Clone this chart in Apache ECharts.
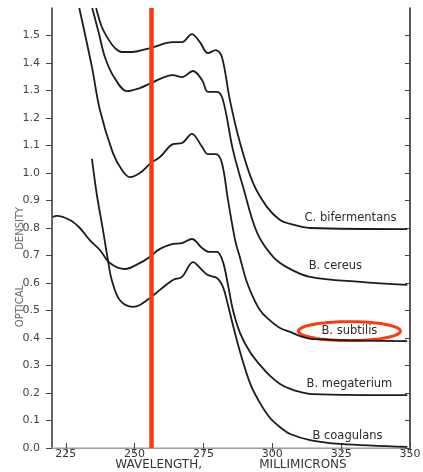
<!DOCTYPE html>
<html>
<head>
<meta charset="utf-8">
<script src="https://cdn.jsdelivr.net/npm/echarts@6/dist/echarts.min.js"></script>
<style>
  html, body { margin: 0; padding: 0; background: #fff; }
  #chart { width: 423px; height: 472px; }
</style>
</head>
<body>
<div id="chart"></div>
<script>
// wavelength (millimicrons) / optical density
const bifX = [236.0, 238.1, 240.6, 242.8, 245.4, 249.0, 255.9, 263.9, 267.2, 270.8, 273.7, 276.6, 279.5, 281.7, 284.6, 288.3, 293.0, 298.1, 302.8, 306.5, 313.7, 349.0];
const bifY = [1.60, 1.531, 1.484, 1.455, 1.44, 1.44, 1.455, 1.476, 1.476, 1.505, 1.476, 1.436, 1.447, 1.422, 1.265, 1.109, 0.964, 0.876, 0.829, 0.815, 0.80, 0.796];

const cerX = [234.6, 237.0, 239.2, 242.5, 247.2, 251.9, 255.9, 263.9, 267.2, 271.2, 274.5, 276.6, 279.9, 282.1, 285.7, 289.4, 294.5, 300.3, 305.7, 313.7, 331.9, 349.0];
const cerY = [1.60, 1.509, 1.422, 1.349, 1.298, 1.309, 1.327, 1.356, 1.349, 1.371, 1.338, 1.295, 1.295, 1.265, 1.084, 0.949, 0.782, 0.695, 0.655, 0.622, 0.604, 0.593];

const subX = [229.9, 234.5, 237.4, 242.1, 245.4, 248.3, 251.9, 255.9, 259.2, 263.9, 267.2, 270.8, 274.5, 276.6, 279.5, 281.7, 283.9, 286.5, 288.3, 290.5, 293.0, 295.5, 298.1, 302.8, 306.5, 310.1, 314.8, 349.0];
const subY = [1.60, 1.385, 1.229, 1.073, 1.011, 0.985, 1.0, 1.036, 1.058, 1.105, 1.109, 1.142, 1.095, 1.069, 1.069, 1.036, 0.902, 0.756, 0.691, 0.611, 0.549, 0.502, 0.473, 0.436, 0.422, 0.407, 0.396, 0.389];

const megX = [220.3, 221.7, 226.5, 230.1, 233.7, 237.4, 241.0, 246.5, 252.0, 255.5, 259.2, 263.9, 267.2, 270.8, 274.5, 277.0, 279.9, 282.1, 283.9, 285.7, 288.3, 291.9, 295.5, 299.2, 302.8, 306.5, 310.1, 314.8, 349.0];
const megY = [0.84, 0.844, 0.829, 0.80, 0.756, 0.72, 0.673, 0.651, 0.673, 0.695, 0.724, 0.742, 0.745, 0.76, 0.727, 0.713, 0.713, 0.676, 0.593, 0.502, 0.418, 0.349, 0.302, 0.262, 0.233, 0.215, 0.204, 0.196, 0.192];

const coaX = [234.5, 236.3, 238.5, 240.3, 241.7, 244.6, 249.4, 251.9, 255.5, 259.2, 263.9, 267.2, 271.2, 274.5, 276.6, 279.9, 282.1, 283.9, 285.7, 288.3, 291.9, 295.5, 299.2, 302.8, 306.5, 313.7, 324.6, 349.0];
const coaY = [1.051, 0.92, 0.793, 0.684, 0.611, 0.538, 0.513, 0.52, 0.545, 0.575, 0.611, 0.622, 0.676, 0.647, 0.629, 0.618, 0.585, 0.52, 0.447, 0.349, 0.236, 0.164, 0.109, 0.076, 0.051, 0.029, 0.015, 0.004];

const xTicks = [225, 250, 275, 300, 325, 350];
const yTicks = [0, 0.1, 0.2, 0.3, 0.4, 0.5, 0.6, 0.7, 0.8, 0.9, 1.0, 1.1, 1.2, 1.3, 1.4, 1.5];

const names = ["C. bifermentans", "B. cereus", "B. subtilis", "B. megaterium", "B coagulans"];
// where each name sits, in data units
const labelAt = [[328.4, 0.836], [322.9, 0.662], [328.0, 0.425], [328.0, 0.233], [327.3, 0.044]];

const marker = 256; // red vertical line
const red = "#fb3a12";

const zip = (xs, ys) => xs.map((x, i) => [x, ys[i]]);
const curves = [zip(bifX, bifY), zip(cerX, cerY), zip(subX, subY), zip(megX, megY), zip(coaX, coaY)];

const chart = echarts.init(document.getElementById("chart"));

const series = curves.map((d, i) => ({
  name: names[i],
  type: "line",
  data: d,
  smooth: 0.35,
  showSymbol: false,
  xAxisIndex: 0,
  yAxisIndex: 0,
  lineStyle: { color: "#1c1c1c", width: 1.8 },
  markPoint: {
    symbol: "circle",
    symbolSize: 1,
    itemStyle: { color: "transparent" },
    label: {
      show: true,
      position: "inside",
      formatter: names[i],
      color: "#2a2a2a",
      fontSize: 11.5,
      fontFamily: "DejaVu Sans"
    },
    data: [{ coord: labelAt[i] }]
  }
}));

series[0].markLine = {
  symbol: "none",
  silent: true,
  label: { show: false },
  lineStyle: { color: red, width: 4.5, type: "solid" },
  data: [{ xAxis: marker }]
};

const option = {
  animation: false,
  backgroundColor: "#fff",
  textStyle: { fontFamily: "DejaVu Sans" },
  grid: { left: 52, right: 13, top: 8, bottom: 24, outerBoundsMode: "none" },
  xAxis: [
    {
      type: "value",
      min: 220,
      max: 350,
      position: "bottom",
      name: "WAVELENGTH,               MILLIMICRONS",
      nameLocation: "middle",
      nameGap: 11,
      nameMoveOverlap: false,
      nameTextStyle: { color: "#333", fontSize: 12 },
      axisLine: { lineStyle: { color: "#444", width: 1.2 } },
      axisTick: { inside: true, length: 5, customValues: xTicks, lineStyle: { color: "#444" } },
      axisLabel: { customValues: xTicks, margin: 1, fontSize: 11, color: "#333" },
      splitLine: { show: false }
    },
    {
      type: "value",
      min: 220,
      max: 350,
      position: "top",
      axisLine: { lineStyle: { color: "#bbb", width: 1.5 } },
      axisTick: { inside: true, length: 4, customValues: xTicks, lineStyle: { color: "#777" } },
      axisLabel: { show: false },
      splitLine: { show: false }
    }
  ],
  yAxis: [
    {
      type: "value",
      min: 0,
      max: 1.6,
      axisLine: { show: true, lineStyle: { color: "#333", width: 1.5 } },
      axisTick: { show: true, length: 6, customValues: yTicks, lineStyle: { color: "#444" } },
      axisLabel: {
        customValues: yTicks,
        margin: 12,
        fontSize: 11,
        color: "#444",
        formatter: v => v.toFixed(1)
      },
      splitLine: { show: false }
    },
    {
      type: "value",
      min: 0,
      max: 1.6,
      position: "right",
      axisLine: { show: true, lineStyle: { color: "#222", width: 1.5 } },
      axisTick: { show: true, inside: true, length: 5, customValues: yTicks, lineStyle: { color: "#444" } },
      axisLabel: { show: false },
      splitLine: { show: false }
    }
  ],
  series: series
};

chart.setOption(option);

// y title and the red ring round "B. subtilis"
const c = chart.convertToPixel({ xAxisIndex: 0, yAxisIndex: 0 }, labelAt[2]);
const ring = [];
for (let k = 0; k < 72; k++) {
  const a = (k / 72) * Math.PI * 2;
  ring.push([c[0] + 51 * Math.cos(a), c[1] + 9.5 * Math.sin(a)]);
}
chart.setOption({
  graphic: [
    {
      type: "text",
      x: 20,
      y: 267,
      rotation: Math.PI / 2,
      style: {
        text: "OPTICAL           DENSITY",
        fill: "#666",
        font: "10px DejaVu Sans",
        textAlign: "center",
        textVerticalAlign: "middle"
      }
    },
    {
      type: "polygon",
      shape: { points: ring },
      style: { fill: "none", stroke: red, lineWidth: 3 }
    }
  ]
});
</script>
</body>
</html>
